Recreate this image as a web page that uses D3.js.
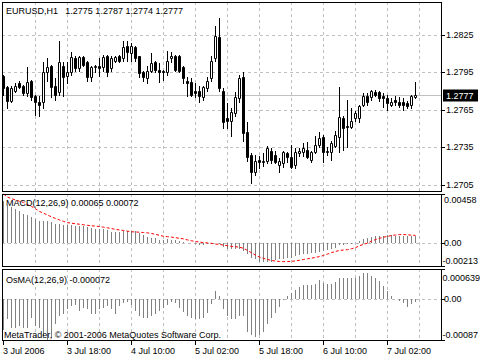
<!DOCTYPE html>
<html>
<head>
<meta charset="utf-8">
<script src="https://cdn.jsdelivr.net/npm/d3@7"></script>
<style>
    body { margin: 0; background: #fff; }
    svg { display: block; }
    text { font-family: "Liberation Sans", Arial, sans-serif; font-size: 9px; fill: #000; }
</style>
</head>
<body>
<div id="chart"></div>
<script>
// ---- data (EURUSD H1, 3-7 Jul 2006) ----
const symbolName = "EURUSD,H1";
const lastBarText = "1.2775 1.2787 1.2774 1.2777";
const lastPrice = 1.2777;

const timeTickBars = [0, 16, 32, 48, 64, 80, 96];
const timeTickLabels = ["3 Jul 2006", "3 Jul 18:00", "4 Jul 10:00", "5 Jul 02:00", "5 Jul 18:00", "6 Jul 10:00", "7 Jul 02:00"];

const priceTicks = [1.2825, 1.2795, 1.2765, 1.2735, 1.2705];
const priceRange = [1.2700, 1.2851];

const macdTicks = [0.00458, 0, -0.00213];
const macdTickLabels = ["0.00458", "0.00", "-0.00213"];
const osmaTicks = [0.000639, 0, -0.00087];
const osmaTickLabels = ["0.000639", "0.00", "-0.00087"];

const open = [1.2792,1.2783,1.2772,1.2780,1.2786,1.2784,1.2778,1.2788,1.2776,1.2771,
    1.2771,1.2795,1.2800,1.2784,1.2779,1.2800,1.2792,1.2795,1.2806,1.2798,
    1.2807,1.2803,1.2791,1.2799,1.2800,1.2799,1.2808,1.2798,1.2804,1.2808,
    1.2806,1.2816,1.2810,1.2815,1.2808,1.2795,1.2790,1.2796,1.2803,1.2797,
    1.2796,1.2795,1.2806,1.2808,1.2808,1.2799,1.2788,1.2787,1.2780,1.2780,
    1.2775,1.2782,1.2790,1.2806,1.2823,1.2780,1.2758,1.2756,1.2762,1.2774,
    1.2791,1.2747,1.2729,1.2715,1.2725,1.2723,1.2724,1.2732,1.2729,1.2721,
    1.2722,1.2730,1.2727,1.2721,1.2730,1.2731,1.2733,1.2725,1.2731,1.2737,
    1.2743,1.2731,1.2731,1.2736,1.2743,1.2758,1.2752,1.2751,1.2758,1.2758,
    1.2769,1.2776,1.2775,1.2779,1.2779,1.2776,1.2774,1.2769,1.2773,1.2771,
    1.2771,1.2770,1.2769,1.2775];
const high = [1.2793,1.2784,1.2784,1.2786,1.2788,1.2785,1.2799,1.2789,1.2777,1.2776,
    1.2803,1.2806,1.2801,1.2790,1.2820,1.2803,1.2803,1.2811,1.2808,1.2808,
    1.2808,1.2804,1.2800,1.2801,1.2806,1.2809,1.2809,1.2808,1.2808,1.2809,
    1.2820,1.2820,1.2818,1.2816,1.2808,1.2796,1.2800,1.2810,1.2804,1.2802,
    1.2797,1.2812,1.2811,1.2809,1.2809,1.2800,1.2791,1.2790,1.2786,1.2784,
    1.2784,1.2791,1.2808,1.2832,1.2838,1.2782,1.2770,1.2766,1.2779,1.2793,
    1.2795,1.2755,1.2730,1.2729,1.2728,1.2730,1.2736,1.2734,1.2732,1.2726,
    1.2732,1.2731,1.2737,1.2734,1.2734,1.2738,1.2739,1.2732,1.2744,1.2747,
    1.2745,1.2735,1.2740,1.2748,1.2783,1.2760,1.2773,1.2766,1.2764,1.2769,
    1.2778,1.2778,1.2781,1.2781,1.2780,1.2778,1.2777,1.2774,1.2776,1.2775,
    1.2774,1.2772,1.2777,1.2787];
const low = [1.2777,1.2766,1.2771,1.2779,1.2782,1.2777,1.2776,1.2773,1.2761,1.2760,
    1.2766,1.2788,1.2775,1.2773,1.2777,1.2776,1.2786,1.2793,1.2796,1.2796,
    1.2800,1.2788,1.2788,1.2795,1.2792,1.2796,1.2792,1.2796,1.2803,1.2803,
    1.2804,1.2804,1.2804,1.2804,1.2791,1.2788,1.2786,1.2795,1.2795,1.2787,
    1.2789,1.2793,1.2803,1.2796,1.2795,1.2786,1.2776,1.2776,1.2775,1.2771,
    1.2773,1.2780,1.2788,1.2804,1.2780,1.2750,1.2750,1.2744,1.2760,1.2771,
    1.2740,1.2724,1.2706,1.2713,1.2718,1.2720,1.2722,1.2722,1.2722,1.2715,
    1.2719,1.2723,1.2718,1.2718,1.2728,1.2728,1.2726,1.2723,1.2730,1.2735,
    1.2723,1.2729,1.2725,1.2735,1.2731,1.2733,1.2735,1.2750,1.2756,1.2755,
    1.2768,1.2769,1.2773,1.2776,1.2772,1.2767,1.2765,1.2768,1.2769,1.2767,
    1.2765,1.2766,1.2766,1.2774];
const close = [1.2782,1.2772,1.2782,1.2784,1.2783,1.2778,1.2787,1.2775,1.2771,1.2769,
    1.2795,1.2799,1.2783,1.2777,1.2803,1.2791,1.2795,1.2807,1.2798,1.2807,
    1.2801,1.2791,1.2799,1.2800,1.2798,1.2807,1.2795,1.2806,1.2807,1.2804,
    1.2815,1.2811,1.2816,1.2806,1.2794,1.2791,1.2796,1.2802,1.2797,1.2795,
    1.2795,1.2804,1.2808,1.2797,1.2796,1.2790,1.2786,1.2777,1.2778,1.2776,
    1.2783,1.2788,1.2804,1.2824,1.2782,1.2755,1.2756,1.2763,1.2775,1.2790,
    1.2746,1.2727,1.2715,1.2724,1.2723,1.2724,1.2734,1.2725,1.2723,1.2724,
    1.2731,1.2727,1.2719,1.2731,1.2732,1.2734,1.2727,1.2731,1.2737,1.2742,
    1.2731,1.2732,1.2738,1.2745,1.2759,1.2750,1.2751,1.2756,1.2762,1.2768,
    1.2776,1.2771,1.2780,1.2777,1.2774,1.2774,1.2770,1.2771,1.2771,1.2769,
    1.2769,1.2768,1.2776,1.2777];

const macdMain = [0.0039,0.00347,0.00337,0.00315,0.00299,0.00274,0.00258,0.00243,0.00227,0.00202,
    0.00202,0.00202,0.00195,0.0018,0.0018,0.00173,0.00173,0.0017,0.00164,0.00164,
    0.00158,0.00148,0.00142,0.00132,0.00132,0.00132,0.00123,0.00107,0.00107,0.00107,
    0.0011,0.00117,0.0011,0.0011,0.00095,0.00076,0.00054,0.00044,0.00044,0.00032,
    0.00032,0.00038,0.00032,0.00032,0.00022,0.00013,0.00006,0.0,-0.00006,-0.00015,
    -0.00015,-0.0001,-0.00005,0.00005,-0.0001,-0.0004,-0.0005,-0.00057,-0.0005,-0.0005,
    -0.00073,-0.00104,-0.00136,-0.00152,-0.00172,-0.00172,-0.00172,-0.00172,-0.00158,-0.00152,
    -0.00145,-0.00136,-0.00136,-0.0012,-0.00114,-0.00104,-0.00098,-0.00095,-0.00088,-0.00082,
    -0.00073,-0.00066,-0.00057,-0.00041,-0.00019,-0.00016,-0.0001,-0.0001,-0.00003,0.00022,
    0.00038,0.00044,0.00054,0.00069,0.00069,0.00069,0.00076,0.00076,0.00069,0.00069,
    0.00069,0.00063,0.00063,0.00065];
const macdSignal = [0.00458,0.0043,0.00415,0.00402,0.0039,0.0038,0.0036,0.00342,0.0032,0.00295,
    0.00279,0.00262,0.00245,0.0023,0.00216,0.00203,0.00191,0.00186,0.00181,0.00176,
    0.00171,0.00166,0.00162,0.00159,0.00155,0.00149,0.00143,0.00136,0.00128,0.00123,
    0.00118,0.00112,0.00106,0.00104,0.00102,0.00099,0.00096,0.0009,0.00082,0.00073,
    0.00064,0.0006,0.00056,0.00051,0.00045,0.0004,0.0003,0.00022,0.00015,0.0001,
    0.00005,0.00002,-0.00002,-0.00008,-0.00012,-0.00018,-0.00024,-0.0003,-0.00033,-0.00038,
    -0.00048,-0.00068,-0.0009,-0.00112,-0.0013,-0.00142,-0.00152,-0.00162,-0.00167,-0.00171,
    -0.00172,-0.00172,-0.0017,-0.00165,-0.0016,-0.00152,-0.00146,-0.0014,-0.00133,-0.00125,
    -0.00115,-0.00102,-0.00088,-0.00078,-0.00068,-0.00064,-0.00061,-0.00052,-0.00042,-0.00024,
    -0.00012,0,0.00018,0.00033,0.00045,0.00055,0.00063,0.00071,0.00076,0.0008,
    0.0008,0.00078,0.00074,0.00072];
const osma = [-0.00065,-0.00043,-0.00061,-0.00061,-0.00057,-0.00061,-0.00061,-0.0004,-0.00057,-0.00061,
    -0.00078,-0.00087,-0.00083,-0.00054,-0.00036,-0.00032,-0.00022,-0.00014,-0.00013,-0.00025,
    -0.00018,-0.00022,-0.00032,-0.00032,-0.00022,-0.00018,-0.00014,-0.00022,-0.00032,-0.00014,
    -0.00009,-0.00007,-0.00013,-0.00025,-0.00036,-0.0004,-0.0004,-0.00036,-0.00032,-0.00025,
    -0.00018,-0.00013,-0.00007,-0.00009,-0.00018,-0.00027,-0.00036,-0.0004,-0.00043,-0.00043,
    -0.0004,-0.00029,-0.00011,0.00018,0.00007,-0.00022,-0.00036,-0.00043,-0.00042,-0.00036,
    -0.00037,-0.0007,-0.00077,-0.0008,-0.00077,-0.0007,-0.00054,-0.00041,-0.0003,-0.00016,
    -0.00001,0.00007,0.00013,0.0002,0.00025,0.00029,0.00029,0.00029,0.00033,0.0004,
    0.00034,0.00031,0.00031,0.00037,0.00045,0.00045,0.00044,0.00044,0.00045,0.00049,
    0.00055,0.00055,0.00049,0.00045,0.00038,0.00027,0.00017,0.00006,0,-0.00004,
    -0.00009,-0.00016,-0.00011,-0.000072];

// ---- layout ----
const width = 480, height = 360;
const left = 2, right = 441;
const pricePane = { top: 2, bottom: 191, labelPad: 6 };
const macdPane = { top: 194, bottom: 266, labelPad: 6 };
const osmaPane = { top: 269, bottom: 340, labelPad: 9 };
const gridColor = "#c0c0c0";
const histColor = "#808080";

const svg = d3.select("#chart").append("svg")
    .attr("width", width)
    .attr("height", height);

svg.append("rect")
    .attr("width", width)
    .attr("height", height)
    .attr("fill", "#fff");

// one bar every 4px, bar 0 sits on the left frame
const x = d3.scaleLinear()
    .domain([0, open.length - 1])
    .range([3, 3 + 4 * (open.length - 1)]);

const yPrice = d3.scaleLinear().domain(priceRange).range([pricePane.bottom, pricePane.top]);
const yMacd = d3.scaleLinear().domain(d3.extent(macdTicks)).range([macdPane.bottom, macdPane.top]);
const yOsma = d3.scaleLinear().domain(d3.extent(osmaTicks)).range([osmaPane.bottom, osmaPane.top]);

const gridBars = d3.range(8, open.length + 1, 8);
const px = v => Math.round(v) + 0.5;

function drawGrid(pane, yScale, levels) {
    const g = svg.append("g")
        .attr("stroke", gridColor)
        .attr("stroke-dasharray", "3,3");

    g.selectAll("line.v")
        .data(gridBars)
        .enter().append("line")
        .attr("class", "v")
        .attr("x1", d => x(d) + 0.5)
        .attr("x2", d => x(d) + 0.5)
        .attr("y1", pane.top)
        .attr("y2", pane.bottom);

    g.selectAll("line.h")
        .data(levels)
        .enter().append("line")
        .attr("class", "h")
        .attr("x1", left)
        .attr("x2", right)
        .attr("y1", d => px(yScale(d)))
        .attr("y2", d => px(yScale(d)));
}

function drawFrame(pane) {
    svg.append("rect")
        .attr("x", left + 0.5)
        .attr("y", pane.top + 0.5)
        .attr("width", right - left)
        .attr("height", pane.bottom - pane.top)
        .attr("fill", "none")
        .attr("stroke", "#000");
}

function drawScale(pane, yScale, values, labels, textX) {
    const g = svg.append("g");
    values.forEach((v, i) => {
        // labels at the pane edges are pushed inside, like the terminal does
        const yy = Math.min(Math.max(yScale(v), pane.top + pane.labelPad), pane.bottom - 5);
        g.append("line")
            .attr("x1", right + 1)
            .attr("x2", right + 4)
            .attr("y1", px(yScale(v)))
            .attr("y2", px(yScale(v)))
            .attr("stroke", "#000");
        g.append("text")
            .attr("x", labels[i].length > 7 ? textX - 1.5 : textX)
            .attr("y", yy)
            .attr("dy", "0.35em")
            .text(labels[i]);
    });
}

// ---- price pane ----
drawGrid(pricePane, yPrice, priceTicks);

svg.append("line")
    .attr("x1", left)
    .attr("x2", right)
    .attr("y1", px(yPrice(lastPrice)))
    .attr("y2", px(yPrice(lastPrice)))
    .attr("stroke", gridColor);

const bars = open.map((o, i) => ({ i, o, h: high[i], l: low[i], c: close[i] }));

const candles = svg.append("g");

candles.selectAll("line.wick")
    .data(bars)
    .enter().append("line")
    .attr("class", "wick")
    .attr("x1", d => x(d.i) + 0.5)
    .attr("x2", d => x(d.i) + 0.5)
    .attr("y1", d => Math.round(yPrice(d.h)))
    .attr("y2", d => Math.round(yPrice(d.l)) + 1)
    .attr("stroke", "#000");

candles.selectAll("path.body")
    .data(bars)
    .enter().append("path")
    .attr("class", "body")
    .attr("d", d => {
        const top = Math.round(yPrice(Math.max(d.o, d.c)));
        const bot = Math.round(yPrice(Math.min(d.o, d.c)));
        return `M${x(d.i) - 0.5},${top + 0.5}h2v${bot - top}h-2Z`;
    })
    .attr("fill", d => d.c < d.o ? "#000" : "#fff")
    .attr("stroke", "#000");

drawFrame(pricePane);
drawScale(pricePane, yPrice, priceTicks, priceTicks.map(d => d.toFixed(4)), 446);

// last price marker
const yLast = px(yPrice(lastPrice));
svg.append("rect")
    .attr("x", right + 2)
    .attr("y", yLast - 6)
    .attr("width", 35)
    .attr("height", 12)
    .attr("fill", "#000");
svg.append("text")
    .attr("x", 446)
    .attr("y", yLast)
    .attr("dy", "0.35em")
    .style("fill", "#fff")
    .text(lastPrice.toFixed(4));

svg.append("text")
    .attr("x", 6)
    .attr("y", 14)
    .text(symbolName)
    .append("tspan")
    .attr("dx", 8)
    .text(lastBarText);

// ---- MACD pane ----
drawGrid(macdPane, yMacd, [0]);

svg.append("g")
    .selectAll("line")
    .data(macdMain)
    .enter().append("line")
    .attr("x1", (d, i) => x(i) + 0.5)
    .attr("x2", (d, i) => x(i) + 0.5)
    .attr("y1", Math.round(yMacd(0)))
    .attr("y2", d => Math.round(yMacd(d)))
    .attr("stroke", histColor);

svg.append("path")
    .datum(macdSignal)
    .attr("d", d3.line().x((d, i) => x(i) + 0.5).y(d => yMacd(d)))
    .attr("fill", "none")
    .attr("stroke", "#ff0000")
    .attr("stroke-dasharray", "3,2");

drawFrame(macdPane);
drawScale(macdPane, yMacd, macdTicks, macdTickLabels, 444);

svg.append("text")
    .attr("x", 6)
    .attr("y", 206)
    .text(`MACD(12,26,9) ${macdMain[macdMain.length - 1].toFixed(5)} ${macdSignal[macdSignal.length - 1].toFixed(5)}`);

// ---- OsMA pane ----
drawGrid(osmaPane, yOsma, [0]);

svg.append("g")
    .selectAll("line")
    .data(osma)
    .enter().append("line")
    .attr("x1", (d, i) => x(i) + 0.5)
    .attr("x2", (d, i) => x(i) + 0.5)
    .attr("y1", Math.round(yOsma(0)))
    .attr("y2", d => Math.round(yOsma(d)))
    .attr("stroke", histColor);

drawFrame(osmaPane);
drawScale(osmaPane, yOsma, osmaTicks, osmaTickLabels, 444);

svg.append("text")
    .attr("x", 6)
    .attr("y", 283)
    .text(`OsMA(12,26,9) ${osma[osma.length - 1].toFixed(6)}`);

svg.append("text")
    .attr("x", 4)
    .attr("y", 338)
    .text("MetaTrader, \u00a9 2001-2006 MetaQuotes Software Corp.");

// ---- time axis ----
const timeAxis = svg.append("g");
timeAxis.selectAll("line")
    .data(timeTickBars)
    .enter().append("line")
    .attr("x1", d => x(d) + 0.5)
    .attr("x2", d => x(d) + 0.5)
    .attr("y1", osmaPane.bottom + 1)
    .attr("y2", osmaPane.bottom + 5)
    .attr("stroke", "#000");
timeAxis.selectAll("text")
    .data(timeTickBars)
    .enter().append("text")
    .attr("x", d => x(d))
    .attr("y", 354)
    .text((d, i) => timeTickLabels[i]);
</script>
</body>
</html>
